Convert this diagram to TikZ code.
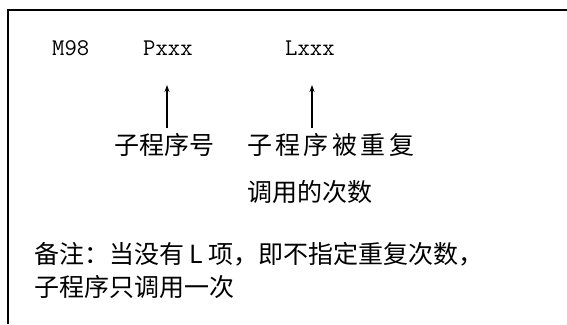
\documentclass[tikz,border=0pt]{standalone}
\usepackage{fontspec}
\newfontfamily\cjk{Noto Sans CJK SC}
\usetikzlibrary{arrows.meta}
\begin{document}
\begin{tikzpicture}[x=1pt,y=-1pt,
  code/.style={font=\fontsize{24}{28}\selectfont\ttfamily, inner sep=0pt, anchor=west},
  zh/.style={font=\fontsize{25}{30}\selectfont\cjk, inner sep=0pt, anchor=west},
  pointer/.style={-{Stealth[length=7pt,width=5pt]}, line width=1.3pt},
  frame/.style={line width=2pt}]
\useasboundingbox (0,0) rectangle (567,324);
% frame (open on right and bottom)
\draw[frame] (8,324) -- (8,10) -- (567,10);
% code line
\node[code] (m98) at (52,48) {M98};
\node[code] (p) at (143,48) {Pxxx};
\node[code] (l) at (285,48) {Lxxx};
% labels
\node[zh] (lab1) at (114,145) {子程序号};
\node[zh] (lab2) at (247,145) {子\hspace{3.4pt}程\hspace{3.4pt}序\hspace{3.4pt}被\hspace{3.4pt}重\hspace{3.4pt}复};
\node[zh] (lab3) at (247,192) {调用的次数};
% arrows
\coordinate (a1b) at (167,128);
\coordinate (a1t) at (167,85);
\coordinate (a2b) at (312,128);
\coordinate (a2t) at (312,85);
\draw[pointer] (a1b) -- (a1t);
\draw[pointer] (a2b) -- (a2t);
% note
\node[zh] (note1) at (34,254) {备注：当没有 L 项，即不指定重复次数，};
\node[zh] (note2) at (34,287) {子程序只调用一次};
\end{tikzpicture}
\end{document}
